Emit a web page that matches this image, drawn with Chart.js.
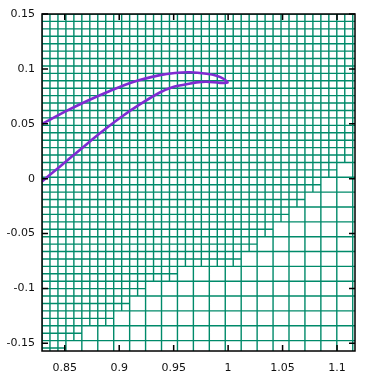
<!DOCTYPE html>
<html>
<head>
<meta charset="utf-8">
<script src="https://cdn.jsdelivr.net/npm/chart.js@4.4.0/dist/chart.umd.min.js"></script>
<style>
  html, body { margin: 0; padding: 0; background: #fff; }
  #wrap { width: 375px; height: 384px; }
</style>
</head>
<body>
<div id="wrap"><canvas id="chart" width="375" height="384"></canvas></div>
<script>
// axis ticks and visible range
const xTicks = [0.85, 0.9, 0.95, 1, 1.05, 1.1];
const yTicks = [0.15, 0.1, 0.05, 0, -0.05, -0.1, -0.15];
const xRange = [0.8291, 1.1165];
const yRange = [-0.157, 0.15];

// adaptive mesh: fine cell origin/size, and for each coarse column
// (2 fine columns wide) the fine row where the coarse cells start
const meshOrigin = [0.8291, 0.15];
const meshStep = [0.007316, 0.006762];
const meshCols = 40;
const meshRows = 46;
const coarseFrom = [46, 46, 44, 42, 42, 40, 38, 36, 36, 34, 34, 34, 34, 32, 30, 28, 26, 24, 22, 20, 18];

// the loop: upper branch left -> tip, then lower branch tip -> left
const loopX = [0.8291, 0.8516, 0.8714, 0.8914, 0.9128, 0.9373, 0.9511, 0.9649, 0.9802, 0.9894, 0.9961, 0.9994,
               0.9925, 0.9802, 0.9710, 0.9619, 0.9495, 0.9373, 0.9189, 0.9006, 0.8822, 0.8638, 0.8454, 0.8291];
const loopY = [0.0498, 0.0617, 0.0712, 0.0799, 0.0881, 0.0943, 0.0963, 0.0969, 0.0956, 0.0938, 0.0908, 0.0876,
               0.0873, 0.0883, 0.0877, 0.0860, 0.0835, 0.0785, 0.0676, 0.0553, 0.0413, 0.0261, 0.0109, -0.0026];

function meshSegments() {
  const X = c => meshOrigin[0] + c * meshStep[0];
  const Y = r => meshOrigin[1] - r * meshStep[1];
  const pts = [];
  const gap = c => ({ x: X(c), y: null });
  // horizontal lines
  for (let r = 0; r <= meshRows; r++) {
    if (r % 2 === 0) {
      pts.push({ x: X(-1), y: Y(r) }, { x: X(meshCols + 1), y: Y(r) }, gap(0));
      continue;
    }
    let start = null;
    coarseFrom.forEach((r0, j) => {
      const fine = r < r0;
      if (fine && start === null) start = 2 * j - 1;
      if (!fine && start !== null) {
        pts.push({ x: X(start), y: Y(r) }, { x: X(2 * j - 1), y: Y(r) }, gap(0));
        start = null;
      }
    });
    if (start !== null) {
      pts.push({ x: X(start), y: Y(r) }, { x: X(2 * coarseFrom.length - 1), y: Y(r) }, gap(0));
    }
  }
  // vertical lines
  for (let c = 0; c <= meshCols; c++) {
    const bottom = c % 2 ? meshRows : coarseFrom[c / 2];
    pts.push({ x: X(c), y: Y(0) }, { x: X(c), y: Y(bottom) }, gap(c));
  }
  return pts;
}

const fmt = v => String(+v.toFixed(2));

const frame = {
  id: 'frame',
  afterDatasetsDraw(chart) {
    const { ctx, chartArea: a, scales: { x, y } } = chart;
    ctx.save();
    ctx.strokeStyle = '#000';
    ctx.lineWidth = 1.5;
    ctx.beginPath();
    x.ticks.forEach(t => {
      const px = x.getPixelForValue(t.value);
      ctx.moveTo(px, a.bottom); ctx.lineTo(px, a.bottom - 6);
      ctx.moveTo(px, a.top); ctx.lineTo(px, a.top + 6);
    });
    y.ticks.forEach(t => {
      const py = y.getPixelForValue(t.value);
      ctx.moveTo(a.left, py); ctx.lineTo(a.left + 6, py);
      ctx.moveTo(a.right, py); ctx.lineTo(a.right - 6, py);
    });
    ctx.stroke();
    ctx.strokeRect(a.left, a.top, a.right - a.left, a.bottom - a.top);
    ctx.restore();
  }
};

new Chart(document.getElementById('chart'), {
  type: 'scatter',
  data: {
    datasets: [
      {
        data: loopX.map((x, i) => ({ x, y: loopY[i] })),
        showLine: true,
        borderColor: '#7f2bd2',
        borderWidth: 2.6,
        pointRadius: 0,
        tension: 0.3,
        clip: 0,
        order: 0
      },
      {
        data: meshSegments(),
        showLine: true,
        spanGaps: false,
        borderColor: '#008a6a',
        borderWidth: 1.4,
        pointRadius: 0,
        tension: 0,
        clip: 0,
        order: 1
      }
    ]
  },
  options: {
    responsive: false,
    animation: false,
    events: [],
    layout: { padding: { top: 14, right: 20, left: 0, bottom: 0 } },
    plugins: { legend: { display: false }, tooltip: { enabled: false } },
    scales: {
      x: {
        type: 'linear',
        min: xRange[0], max: xRange[1],
        afterBuildTicks: s => { s.ticks = xTicks.map(value => ({ value })); },
        afterFit: s => { s.height = 33; },
        grid: { display: false, drawTicks: false },
        border: { display: false },
        ticks: { callback: fmt, padding: 11, color: '#111', font: { family: 'DejaVu Sans', size: 11 }, maxRotation: 0 }
      },
      y: {
        type: 'linear',
        min: yRange[0], max: yRange[1],
        afterBuildTicks: s => { s.ticks = yTicks.map(value => ({ value })); },
        afterFit: s => { s.width = 42; },
        grid: { display: false, drawTicks: false },
        border: { display: false },
        ticks: { callback: fmt, padding: 7, color: '#111', font: { family: 'DejaVu Sans', size: 11 } }
      }
    }
  },
  plugins: [frame]
});
</script>
</body>
</html>
